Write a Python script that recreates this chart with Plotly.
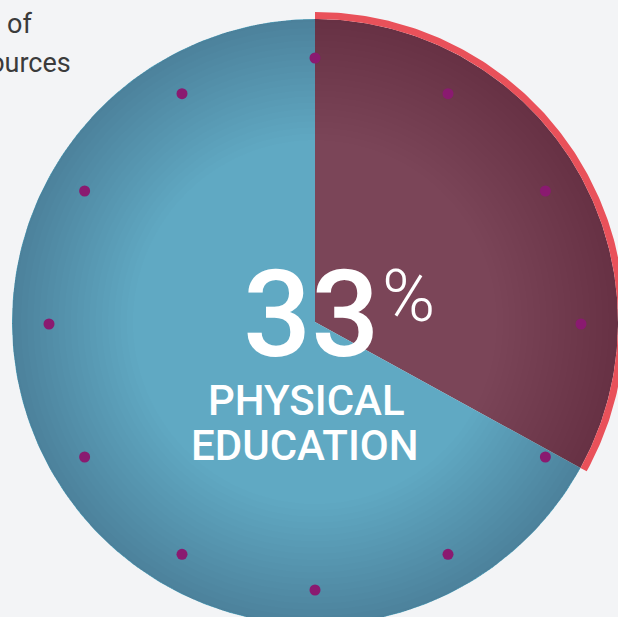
import numpy as np
import plotly.graph_objects as go

# ---- data ----
labels = ["Physical Education", "Other"]
shares = [33, 67]
slice_colors = ["#7b4558", "#60a9c3"]
highlight_lines = ["PHYSICAL", "EDUCATION"]
side_lines = ["of", "resources"]
clock_hours = list(range(12))

# ---- geometry (layout, pixels) ----
W, H = 618, 617
CX, CY, R = 315, 322, 303
RING_IN, RING_OUT = 303, 310
DOT_R = 266


def pt(r, deg):
    a = np.deg2rad(deg)
    return CX + r * np.sin(a), CY - r * np.cos(a)


def wedge(r0, r1, a0, a1, n=200):
    t = np.linspace(a0, a1, n)
    xo, yo = pt(r1, t)
    if r0 == 0:
        xs = np.concatenate([[CX], xo, [CX]])
        ys = np.concatenate([[CY], yo, [CY]])
    else:
        xi, yi = pt(r0, t[::-1])
        xs = np.concatenate([xo, xi, xo[:1]])
        ys = np.concatenate([yo, yi, yo[:1]])
    return xs, ys


fig = go.Figure()

total = sum(shares)
start = 0.0
for lab, v, c in zip(labels, shares, slice_colors):
    end = start + 360.0 * v / total
    xs, ys = wedge(0, R, start, end)
    fig.add_trace(go.Scatter(x=xs, y=ys, fill="toself", fillcolor=c, mode="lines",
                             line=dict(width=0, color=c), hoverinfo="skip", name=lab))
    start = end

# subtle vignette toward the rim
for r0 in np.linspace(0.6, 0.99, 20):
    xs, ys = wedge(R * r0, R, 0, 360, 240)
    fig.add_trace(go.Scatter(x=xs, y=ys, fill="toself", fillcolor="rgba(20,20,40,0.007)",
                             mode="lines", line=dict(width=0), hoverinfo="skip"))

# highlight ring on the first slice
hl_end = 360.0 * shares[0] / total
xs, ys = wedge(RING_IN, RING_OUT, 0, hl_end)
fig.add_trace(go.Scatter(x=xs, y=ys, fill="toself", fillcolor="#e9515a", mode="lines",
                         line=dict(width=0), hoverinfo="skip"))

# clock dots
dx, dy = pt(DOT_R, np.array(clock_hours) * 30.0)
fig.add_trace(go.Scatter(x=dx, y=dy + 2, mode="markers",
                         marker=dict(size=11, color="#8a1a70"), hoverinfo="skip"))

ann = []
ann.append(dict(x=311, y=315, text=f"{shares[0]}", showarrow=False, xref="x", yref="y",
                font=dict(family="Roboto", size=120, color="white", weight=500),
                xanchor="center", yanchor="middle"))
ann.append(dict(x=380, y=296, text="%", showarrow=False, xref="x", yref="y",
                font=dict(family="Roboto", size=72, color="white", weight=300),
                xanchor="left", yanchor="middle"))
ann.append(dict(x=306, y=400, text=highlight_lines[0], showarrow=False, xref="x", yref="y",
                font=dict(family="Roboto", size=42, color="white", weight=500),
                xanchor="center", yanchor="middle"))
ann.append(dict(x=305, y=445, text=highlight_lines[1], showarrow=False, xref="x", yref="y",
                font=dict(family="Roboto", size=42, color="white", weight=500),
                xanchor="center", yanchor="middle"))
ann.append(dict(x=5, y=24, text=side_lines[0], showarrow=False, xref="x", yref="y",
                font=dict(family="Roboto", size=27, color="#3b3b3b"), xanchor="left", yanchor="middle"))
ann.append(dict(x=73, y=63, text=side_lines[1], showarrow=False, xref="x", yref="y",
                font=dict(family="Roboto", size=27, color="#3b3b3b"), xanchor="right", yanchor="middle"))

fig.update_layout(
    width=W, height=H, margin=dict(l=0, r=0, t=0, b=0),
    paper_bgcolor="#f3f4f6", plot_bgcolor="#f3f4f6",
    showlegend=False, annotations=ann,
    xaxis=dict(range=[0, W], visible=False, fixedrange=True),
    yaxis=dict(range=[H, 0], visible=False, fixedrange=True),
)
fig.write_html("out.html", config={"displayModeBar": False},
               post_script="document.body.style.margin='0';document.body.style.overflow='hidden';document.body.style.background='#f3f4f6';")
